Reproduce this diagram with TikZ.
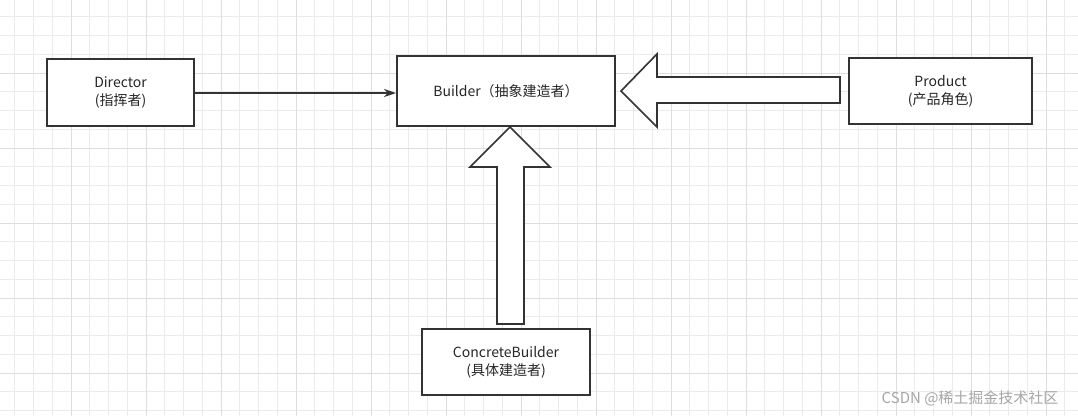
\documentclass[tikz,border=0pt]{standalone}
\usepackage{fontspec}
\setmainfont{Noto Sans CJK SC}
\usetikzlibrary{arrows.meta}
\begin{document}
\begin{tikzpicture}[x=1pt,y=-1pt,
  box/.style={draw=black!80,line width=2pt,fill=white,inner sep=0pt,align=center,font=\fontsize{14}{18}\selectfont,text=black!85},
  hollow/.style={draw=black!80,line width=1.6pt,fill=white,line join=miter}]
\useasboundingbox (0,0) rectangle (1078,416);
\fill[white] (0,0) rectangle (1078,416);
\foreach \i in {0,...,58} {\draw[black!8,line width=0.6pt] (\i*18.75-4,0) -- (\i*18.75-4,416);}
\foreach \i in {0,...,23} {\draw[black!8,line width=0.6pt] (0,\i*18.75-2) -- (1078,\i*18.75-2);}
\foreach \i in {0,...,15} {\draw[black!13,line width=0.8pt] (\i*75-4,0) -- (\i*75-4,416);}
\foreach \i in {0,...,6} {\draw[black!13,line width=0.8pt] (0,\i*75-2) -- (1078,\i*75-2);}
\node[box,minimum width=147pt,minimum height=67pt] (dir) at (120.5,92.5) {Director\\(指挥者)};
\node[box,minimum width=218pt,minimum height=70pt] (bld) at (506,91) {Builder（抽象建造者）};
\node[box,minimum width=183pt,minimum height=66pt] (prd) at (940.5,91) {Product\\(产品角色)};
\node[box,minimum width=168pt,minimum height=66pt] (cb) at (506,362) {ConcreteBuilder\\(具体建造者)};
\draw[black!80,line width=1.6pt,-{Stealth[length=12pt,width=8pt]}] (dir.east |- 0,93) -- (bld.west |- 0,93);
\coordinate (pt) at (621,91);
\draw[hollow] (pt) -- (657,54) -- (657,77) -- (840,77) -- (840,103) -- (657,103) -- (657,127) -- cycle;
\coordinate (ct) at (510,127);
\draw[hollow] (ct) -- (550,167) -- (524,167) -- (524,324) -- (497,324) -- (497,167) -- (470,167) -- cycle;
\node[text=black!35,font=\fontsize{15}{18}\selectfont,anchor=south east] (wm) at (1062,410) {CSDN @稀土掘金技术社区};
\end{tikzpicture}
\end{document}
